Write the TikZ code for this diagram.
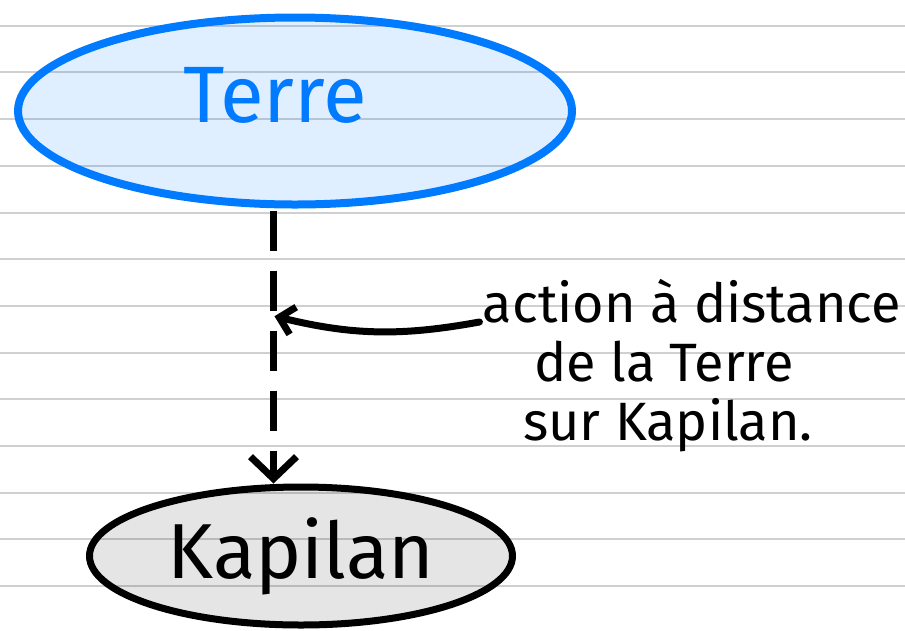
\documentclass[tikz,border=0pt]{standalone}
\usepackage{fontspec}
\setmainfont{Fira Sans}
\usepackage{tikz}
\usetikzlibrary{shapes.geometric}
\usetikzlibrary{arrows.meta}
\usetikzlibrary{positioning}
\usetikzlibrary{calc}
\definecolor{inkblue}{RGB}{0,122,255}
\definecolor{ruleline}{RGB}{208,208,208}

\tikzset{
  rule/.style={ruleline,line width=2pt},
  body/.style={ellipse,inner sep=0pt,text opacity=1},
  link/.style={line width=7pt,dash pattern=on 40pt off 20pt,shorten <=2pt,
    -{Straight Barb[length=22pt,width=46pt]}},
  pull/.style={line width=7pt,line cap=round,shorten >=1pt,
    -{Straight Barb[length=14pt,width=28pt]}},
  note/.style={anchor=base,font=\fontsize{54}{60}\selectfont}
}

\begin{document}
\begin{tikzpicture}[x=1pt,y=1pt,yscale=-1,xscale=1]
\useasboundingbox (0,0) rectangle (905,630);
% ruled paper
\foreach \k in {0,...,12}
  \draw[rule] (0,{25.7+46.7*\k}) -- (905,{25.7+46.7*\k});
% Terre
\node[body,draw=inkblue,fill=inkblue,fill opacity=0.12,line width=8pt,
  minimum width=554pt,minimum height=187pt,
  label={[text=inkblue,font=\fontsize{80}{90}\selectfont,shift={(-20,16)}]center:Terre}]
  (terre) at (295,111) {};
% Kapilan
\node[body,draw=black,fill=black,fill opacity=0.1,line width=7pt,
  minimum width=423pt,minimum height=138pt] (kapilan) at (301,556)
  {\fontsize{78}{90}\selectfont Kapilan};
% annotation
\node[note] (act) at (692,322) {action à distance};
\node[note] (act2) at (664,381) {de la Terre};
\node[note] (act3) at (668,440) {sur Kapilan.};
\coordinate (hit) at (273.5,316);
% arrows
\draw[link] (hit |- terre.south) -- (hit |- kapilan.north);
\draw[pull] (act.base west) to[bend right=12] (hit);
\end{tikzpicture}
\end{document}
